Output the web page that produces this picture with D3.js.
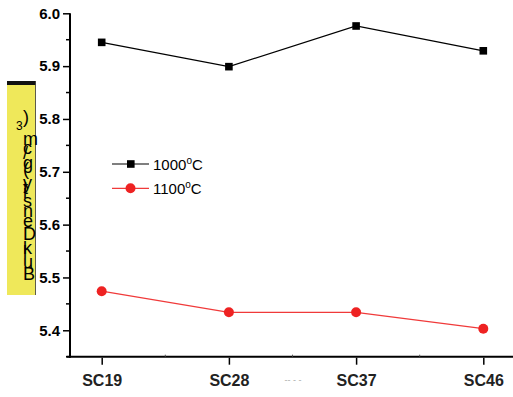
<!DOCTYPE html>
<meta charset="utf-8">
<script src="https://d3js.org/d3.v7.min.js"></script>
<style>
  body { margin: 0; background: #fff; }
  text { font-family: "Liberation Sans", Arial, sans-serif; }
</style>
<div id="my_dataviz"></div>
<script>
// data
var categories = ["SC19", "SC28", "SC37", "SC46"];
var density1000 = [5.945, 5.899, 5.976, 5.929];
var density1100 = [5.474, 5.434, 5.434, 5.403];
var yTicks = [5.4, 5.5, 5.6, 5.7, 5.8, 5.9, 6.0];
var yMinorTicks = [5.35, 5.45, 5.55, 5.65, 5.75, 5.85, 5.95];
var seriesNames = ["1000", "1100"];

var width = 513, height = 397;

var svg = d3.select("#my_dataviz")
  .append("svg")
    .attr("width", width)
    .attr("height", height);

var x = d3.scalePoint()
  .domain(categories)
  .range([101.7, 483.3]);

var y = d3.scaleLinear()
  .domain([5.35, 6.0])
  .range([356.7, 13.3]);

// broken y axis title box
svg.append("rect")
  .attr("x", 7).attr("y", 81).attr("width", 28.5).attr("height", 214)
  .attr("fill", "#efe85a");
svg.append("rect")
  .attr("x", 7).attr("y", 81).attr("width", 28.5).attr("height", 4)
  .attr("fill", "#111");
svg.append("line")
  .attr("x1", 35.5).attr("x2", 35.5).attr("y1", 81).attr("y2", 295)
  .attr("stroke", "#333").attr("stroke-width", 0.8);

var ylab = svg.append("text")
  .attr("x", 23).attr("y", 280)
  .attr("transform", "rotate(-90,23,280)")
  .attr("rotate", 90)
  .style("font-size", "18px")
  .attr("fill", "#000");
ylab.append("tspan").text("Bulk Density (g/cm");
ylab.append("tspan").attr("baseline-shift", "super").style("font-size", "12px").attr("rotate", 90).text("3");
ylab.append("tspan").attr("rotate", 90).text(")");

// y axis
var yAxis = svg.append("g")
  .attr("transform", "translate(70,0)")
  .call(d3.axisLeft(y).tickValues(yTicks).tickSize(7).tickSizeOuter(0).tickPadding(3)
    .tickFormat(d3.format(".1f")));
yAxis.select(".domain").remove();
yAxis.selectAll("line").attr("stroke", "#000").attr("stroke-width", 1.5);
yAxis.selectAll("text")
  .style("font-size", "15px").style("font-weight", "bold").attr("fill", "#000");

svg.append("g")
  .attr("transform", "translate(70,0)")
  .selectAll("line")
  .data(yMinorTicks)
  .enter().append("line")
    .attr("x1", -4).attr("x2", 0)
    .attr("y1", function(d) { return y(d); })
    .attr("y2", function(d) { return y(d); })
    .attr("stroke", "#000").attr("stroke-width", 1.5);

svg.append("line")
  .attr("x1", 70).attr("x2", 70)
  .attr("y1", y(6.0)).attr("y2", y(5.35) + 1)
  .attr("stroke", "#000").attr("stroke-width", 2);

// x axis
svg.append("line")
  .attr("x1", 66.5).attr("x2", 513)
  .attr("y1", y(5.35)).attr("y2", y(5.35))
  .attr("stroke", "#000").attr("stroke-width", 2);

var xAxis = svg.append("g")
  .attr("transform", "translate(0," + (y(5.35) + 1) + ")")
  .call(d3.axisBottom(x).tickSize(7).tickSizeOuter(0).tickPadding(10));
xAxis.select(".domain").remove();
xAxis.selectAll("line").attr("stroke", "#000").attr("stroke-width", 1.5);
xAxis.selectAll("text")
  .style("font-size", "16px").style("font-weight", "bold").attr("fill", "#222");

// small minor ticks between categories
var step = x.step();
svg.append("g")
  .selectAll("line")
  .data(categories.slice(0, -1))
  .enter().append("line")
    .attr("x1", function(d) { return x(d) + step / 2; })
    .attr("x2", function(d) { return x(d) + step / 2; })
    .attr("y1", y(5.35) - 2).attr("y2", y(5.35))
    .attr("stroke", "#555").attr("stroke-width", 1);

// remnant of x axis title
svg.append("text")
  .attr("x", (x("SC28") + x("SC37")) / 2 - 8).attr("y", 383)
  .style("font-size", "9px").attr("fill", "#aaa")
  .text("-- -      -");

// lines
var line = d3.line()
  .x(function(d, i) { return x(categories[i]); })
  .y(function(d) { return y(d); });

svg.append("path")
  .datum(density1000)
  .attr("fill", "none").attr("stroke", "#000").attr("stroke-width", 1.2)
  .attr("d", line);

svg.append("path")
  .datum(density1100)
  .attr("fill", "none").attr("stroke", "#f03a3a").attr("stroke-width", 1.2)
  .attr("d", line);

svg.append("g")
  .selectAll("rect")
  .data(density1000)
  .enter().append("rect")
    .attr("x", function(d, i) { return x(categories[i]) - 3.8; })
    .attr("y", function(d) { return y(d) - 3.8; })
    .attr("width", 7.6).attr("height", 7.6)
    .attr("fill", "#000");

svg.append("g")
  .selectAll("circle")
  .data(density1100)
  .enter().append("circle")
    .attr("cx", function(d, i) { return x(categories[i]); })
    .attr("cy", function(d) { return y(d); })
    .attr("r", 5)
    .attr("fill", "#ee2222");

// legend
var legend = svg.append("g").attr("transform", "translate(112,164)");
seriesNames.forEach(function(name, i) {
  var g = legend.append("g").attr("transform", "translate(0," + (i * 24.3) + ")");
  var col = i === 0 ? "#000" : "#ee2222";
  g.append("line")
    .attr("x1", 0).attr("x2", 37).attr("y1", 0).attr("y2", 0)
    .attr("stroke", i === 0 ? "#000" : "#f03a3a").attr("stroke-width", 1.2);
  if (i === 0) {
    g.append("rect").attr("x", 15).attr("y", -3.8).attr("width", 7.6).attr("height", 7.6).attr("fill", col);
  } else {
    g.append("circle").attr("cx", 18.5).attr("cy", 0).attr("r", 5).attr("fill", col);
  }
  var t = g.append("text").attr("x", 41).attr("y", 5.5)
    .style("font-size", "15px").attr("fill", "#000");
  t.append("tspan").text(name);
  t.append("tspan").attr("dy", -6).style("font-size", "10px").text("o");
  t.append("tspan").attr("dy", 6).text("C");
});
</script>
